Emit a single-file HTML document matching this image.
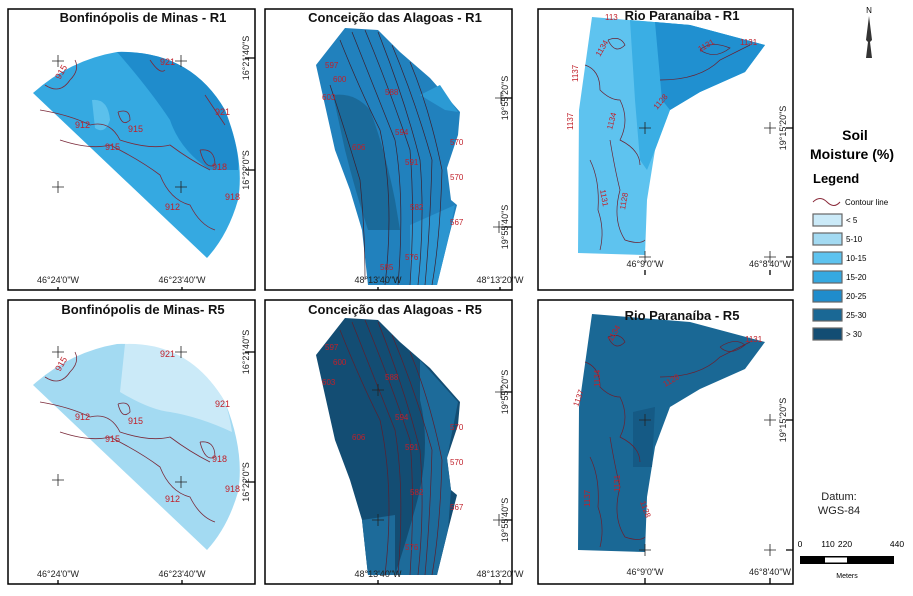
<!DOCTYPE html>
<html><head><meta charset="utf-8"><style>
body{margin:0;background:#fff;width:913px;height:591px;overflow:hidden;font-family:"Liberation Sans",sans-serif}
svg text{font-family:"Liberation Sans",sans-serif}
</style></head><body>
<svg width="913" height="591" viewBox="0 0 913 591">
<defs>
<g id="fan">
 <path d="M33,93 Q70,60 117,52 Q190,50 225,110 Q245,160 238,200 Q228,235 207,258 Z"/>
</g>
<g id="band">
 <path d="M316,65 L345,28 L378,30 L400,52 L430,78 L460,112 L458,135 L447,168 L451,200 L457,205 L448,240 L437,285 L368,285 L362,230 L350,190 L335,150 Z"/>
</g>
<g id="rio">
 <path d="M592,17 L690,25 L765,45 L745,72 L700,92 L670,110 L655,150 L647,200 L645,255 L578,253 L579,110 Z"/>
</g>
</defs>

<!-- panel frames -->
<rect x="8" y="9" width="247" height="281" fill="none" stroke="#000" stroke-width="1.5"/>
<rect x="265" y="9" width="247" height="281" fill="none" stroke="#000" stroke-width="1.5"/>
<rect x="538" y="9" width="255" height="281" fill="none" stroke="#000" stroke-width="1.5"/>
<rect x="8" y="300" width="247" height="284" fill="none" stroke="#000" stroke-width="1.5"/>
<rect x="265" y="300" width="247" height="284" fill="none" stroke="#000" stroke-width="1.5"/>
<rect x="538" y="300" width="255" height="284" fill="none" stroke="#000" stroke-width="1.5"/>

<!-- Panel 1 -->
<g>
 <use href="#fan" fill="#35a9e1"/>
 <path d="M117,52 Q190,50 225,110 Q240,150 238,170 L210,170 Q180,150 170,120 Q150,90 118,53 Z" fill="#1f8ccc"/>
 <path d="M92,100 Q108,98 110,120 Q105,135 95,128 Z" fill="#5bc0ec"/>
 <g fill="none" stroke="#7a2a3a" stroke-width="0.8">
  <path d="M45,85 Q60,95 70,80 Q80,70 75,60"/><path d="M40,110 Q70,115 90,125 Q110,120 120,140 Q150,150 170,145 Q190,160 210,170"/>
  <path d="M60,140 Q90,150 110,145 Q140,160 160,175 Q170,200 190,205 Q200,225 215,230"/>
  <path d="M150,60 Q160,75 165,70"/><path d="M205,95 Q215,110 225,125"/>
  <path d="M118,112 Q130,108 130,120 Q122,128 118,112"/><path d="M200,150 Q215,148 215,165 Q205,170 200,150"/>
 </g>
 <g fill="#c0202a" font-size="9"><text x="60" y="80" transform="rotate(-60 60 80)">915</text><text x="160" y="65">921</text><text x="215" y="115">921</text><text x="75" y="128">912</text><text x="128" y="132">915</text><text x="105" y="150">915</text><text x="212" y="170">918</text><text x="165" y="210">912</text><text x="225" y="200">918</text></g>
</g>
<!-- Panel 4 -->
<g transform="translate(0,292)">
 <use href="#fan" fill="#a3daf2"/>
 <path d="M125,52 Q190,50 225,110 Q230,125 232,140 Q200,125 170,120 Q150,118 120,100 Z" fill="#cbeaf8"/>
 <g fill="none" stroke="#7a2a3a" stroke-width="0.8">
  <path d="M45,85 Q60,95 70,80 Q80,70 75,60"/><path d="M40,110 Q70,115 90,125 Q110,120 120,140 Q150,150 170,145 Q190,160 210,170"/>
  <path d="M60,140 Q90,150 110,145 Q140,160 160,175 Q170,200 190,205 Q200,225 215,230"/>
  <path d="M118,112 Q130,108 130,120 Q122,128 118,112"/><path d="M200,150 Q215,148 215,165 Q205,170 200,150"/>
 </g>
 <g fill="#c0202a" font-size="9"><text x="60" y="80" transform="rotate(-60 60 80)">915</text><text x="160" y="65">921</text><text x="215" y="115">921</text><text x="75" y="128">912</text><text x="128" y="132">915</text><text x="105" y="150">915</text><text x="212" y="170">918</text><text x="165" y="210">912</text><text x="225" y="200">918</text></g>
</g>

<!-- Panel 2 -->
<g>
 <use href="#band" fill="#2181bd"/>
 <path d="M333,95 Q355,92 370,110 Q385,150 395,200 L400,230 L368,230 Q355,190 345,150 Z" fill="#1a6a9a"/>
 <path d="M410,225 L455,205 L448,240 L437,285 L410,285 Z" fill="#2b95d0"/>
 <path d="M420,95 L440,85 L458,112 L445,110 Z" fill="#2b9ad4"/>
 <g fill="none" stroke="#3a2030" stroke-width="0.7">
  <path d="M340,40 Q360,90 380,130 Q395,200 385,285"/><path d="M352,32 Q375,90 395,140 Q405,200 398,285"/>
  <path d="M365,30 Q390,90 410,150 Q415,210 410,285"/><path d="M378,32 Q405,100 420,160 Q425,220 418,285"/>
  <path d="M392,45 Q415,100 432,160 Q430,230 425,285"/><path d="M410,62 Q430,110 442,170 Q440,240 432,285"/>
  <path d="M330,85 Q345,130 360,180 Q365,230 365,280"/>
 </g>
 <g fill="#c0202a" font-size="8"><text x="325" y="68">597</text><text x="333" y="82">600</text><text x="385" y="95">588</text><text x="322" y="100">603</text><text x="395" y="135">594</text><text x="352" y="150">606</text><text x="405" y="165">591</text><text x="450" y="145">570</text><text x="450" y="180">570</text><text x="410" y="210">582</text><text x="405" y="260">576</text><text x="380" y="270">585</text><text x="450" y="225">567</text></g>
</g>
<!-- Panel 5 -->
<g transform="translate(0,290)">
 <use href="#band" fill="#134d73"/>
 <path d="M420,70 L458,112 L447,168 L451,200 L448,240 L437,285 L395,285 Q410,240 420,200 Q430,150 420,110 Z" fill="#1d6b9a"/>
 <path d="M362,230 L395,225 L395,285 L368,285 Z" fill="#1d6b9a"/>
 <g fill="none" stroke="#5a2030" stroke-width="0.7">
  <path d="M340,40 Q360,90 380,130 Q395,200 385,285"/><path d="M352,32 Q375,90 395,140 Q405,200 398,285"/>
  <path d="M365,30 Q390,90 410,150 Q415,210 410,285"/><path d="M378,32 Q405,100 420,160 Q425,220 418,285"/>
  <path d="M392,45 Q415,100 432,160 Q430,230 425,285"/><path d="M410,62 Q430,110 442,170 Q440,240 432,285"/>
 </g>
 <g fill="#c0202a" font-size="8"><text x="325" y="60">597</text><text x="333" y="75">600</text><text x="385" y="90">588</text><text x="322" y="95">603</text><text x="395" y="130">594</text><text x="352" y="150">606</text><text x="405" y="160">591</text><text x="450" y="140">570</text><text x="450" y="175">570</text><text x="410" y="205">582</text><text x="405" y="260">576</text><text x="450" y="220">567</text></g>
</g>

<!-- Panel 3 -->
<g>
 <use href="#rio" fill="#5ec3ef"/>
 <path d="M630,20 L690,25 L765,45 L745,72 L700,92 L670,110 L655,150 L647,170 L640,160 L635,100 Z" fill="#3aaee4"/>
 <path d="M655,22 L690,25 L765,45 L745,72 L700,92 L670,110 L662,100 Z" fill="#2090d0"/>
 <g fill="none" stroke="#6a2030" stroke-width="0.7">
  <path d="M585,65 Q600,70 600,90 Q610,100 620,100 Q630,120 620,140 Q640,150 640,165"/>
  <path d="M590,160 Q600,180 598,210 Q605,230 600,250"/><path d="M610,140 Q615,170 620,190 Q612,220 625,240 Q640,245 645,240"/>
  <path d="M660,80 Q700,80 720,60 Q740,50 750,45"/><path d="M700,50 Q710,40 730,48 Q715,60 700,50"/>
  <path d="M608,40 Q620,35 625,45 Q615,55 608,40"/>
 </g>
 <g fill="#c0202a" font-size="8"><text x="578" y="82" transform="rotate(-90 578 82)">1137</text><text x="573" y="130" transform="rotate(-90 573 130)">1137</text><text x="612" y="130" transform="rotate(-75 612 130)">1134</text><text x="600" y="57" transform="rotate(-60 600 57)">1134</text><text x="700" y="52" transform="rotate(-30 700 52)">1131</text><text x="740" y="45">1131</text><text x="657" y="110" transform="rotate(-50 657 110)">1128</text><text x="600" y="190" transform="rotate(80 600 190)">1131</text><text x="625" y="210" transform="rotate(-80 625 210)">1128</text><text x="605" y="20">113</text></g>
</g>
<!-- Panel 6 -->
<g transform="translate(0,297)">
 <use href="#rio" fill="#1a6895"/>
 <path d="M633,115 L655,110 L652,170 L633,170 Z" fill="#155a85"/>
 <g fill="none" stroke="#6a2030" stroke-width="0.7">
  <path d="M585,65 Q600,70 600,90 Q610,100 620,100 Q630,120 620,140 Q640,150 640,165"/>
  <path d="M590,160 Q600,180 598,210 Q605,230 600,250"/><path d="M610,140 Q615,170 620,190 Q612,220 625,240 Q640,245 645,240"/>
  <path d="M660,80 Q700,80 720,60 Q740,50 750,45"/><path d="M720,50 Q735,40 745,48 Q730,60 720,50"/>
  <path d="M608,40 Q620,35 625,45 Q615,55 608,40"/>
 </g>
 <g fill="#c0202a" font-size="8"><text x="578" y="110" transform="rotate(-70 578 110)">1137</text><text x="600" y="90" transform="rotate(-90 600 90)">1134</text><text x="612" y="45" transform="rotate(-60 612 45)">1134</text><text x="745" y="45">1131</text><text x="665" y="90" transform="rotate(-30 665 90)">1128</text><text x="620" y="195" transform="rotate(-90 620 195)">1131</text><text x="590" y="210" transform="rotate(-90 590 210)">1137</text><text x="640" y="205" transform="rotate(70 640 205)">1128</text></g>
</g>

<!-- titles -->
<g font-weight="bold" font-size="13" text-anchor="middle" fill="#111">
 <text x="143" y="22">Bonfinópolis de Minas - R1</text>
 <text x="395" y="22">Conceição das Alagoas - R1</text>
 <text x="682" y="20">Rio Paranaíba - R1</text>
 <text x="143" y="314">Bonfinópolis de Minas- R5</text>
 <text x="395" y="314">Conceição das Alagoas - R5</text>
 <text x="682" y="320">Rio Paranaíba - R5</text>
</g>

<!-- axis labels -->
<g font-size="9" fill="#222" text-anchor="middle">
 <text x="58" y="283">46°24'0"W</text><text x="182" y="283">46°23'40"W</text>
 <text x="378" y="283">48°13'40"W</text><text x="500" y="283">48°13'20"W</text>
 <text x="645" y="267">46°9'0"W</text><text x="770" y="267">46°8'40"W</text>
 <text x="58" y="577">46°24'0"W</text><text x="182" y="577">46°23'40"W</text>
 <text x="378" y="577">48°13'40"W</text><text x="500" y="577">48°13'20"W</text>
 <text x="645" y="575">46°9'0"W</text><text x="770" y="575">46°8'40"W</text>
</g>
<g stroke="#000" stroke-width="1.3">
 <path d="M58,287V290M182,287V290M378,287V290M500,287V290M645,270V275M770,270V275M58,580V584M182,580V584M378,580V584M500,580V584M645,578V584M770,578V584"/>
 <path d="M245,58H255M245,170H255M502,98H512M502,227H512M786,128H793M786,257H793M245,352H255M245,482H255M502,392H512M502,520H512M786,420H793M786,550H793"/>
</g>
<g font-size="9" fill="#222" text-anchor="middle">
 <text transform="translate(249,58) rotate(-90)">16°21'40"S</text><text transform="translate(249,170) rotate(-90)">16°22'0"S</text>
 <text transform="translate(508,98) rotate(-90)">19°55'20"S</text><text transform="translate(508,227) rotate(-90)">19°55'40"S</text>
 <text transform="translate(786,128) rotate(-90)">19°15'20"S</text>
 <text transform="translate(249,352) rotate(-90)">16°21'40"S</text><text transform="translate(249,482) rotate(-90)">16°22'0"S</text>
 <text transform="translate(508,392) rotate(-90)">19°55'20"S</text><text transform="translate(508,520) rotate(-90)">19°55'40"S</text>
 <text transform="translate(786,420) rotate(-90)">19°15'20"S</text>
</g>
<g stroke="#222" stroke-width="0.8">
 <path d="M52,61h12M58,55v12M175,61h12M181,55v12M52,187h12M58,181v12M175,187h12M181,181v12"/>
 <path d="M495,98h12M501,92v12M493,227h12M499,221v12"/>
 <path d="M639,128h12M645,122v12M764,128h12M770,122v12M639,257h12M645,251v12M764,257h12M770,251v12"/>
 <path d="M52,352h12M58,346v12M175,352h12M181,346v12M52,480h12M58,474v12M175,482h12M181,476v12"/>
 <path d="M372,390h12M378,384v12M372,520h12M378,514v12M495,392h12M501,386v12M493,520h12M499,514v12"/>
 <path d="M639,420h12M645,414v12M764,420h12M770,414v12M639,550h12M645,544v12M764,550h12M770,544v12"/>
</g>

<!-- north arrow -->
<g>
 <text x="869" y="13" font-size="8" text-anchor="middle">N</text>
 <path d="M869,16 L872,40 L870,42 L872,58 L866,58 L868,42 L866,40 Z" fill="#333"/>
</g>

<!-- legend -->
<g>
 <text x="855" y="140" font-size="14" font-weight="bold" text-anchor="middle">Soil</text>
 <text x="852" y="159" font-size="14" font-weight="bold" text-anchor="middle">Moisture (%)</text>
 <text x="813" y="183" font-size="13" font-weight="bold">Legend</text>
 <path d="M813,202 Q820,195 827,202 Q834,209 840,202" fill="none" stroke="#8a2a3a"/>
 <text x="845" y="205" font-size="8">Contour line</text>
 <g stroke="#666" stroke-width="1.2">
  <rect x="813" y="214" width="29" height="12" fill="#cbeaf8"/>
  <rect x="813" y="233" width="29" height="12" fill="#a3daf2"/>
  <rect x="813" y="252" width="29" height="12" fill="#5ec3ef"/>
  <rect x="813" y="271" width="29" height="12" fill="#35a9e1"/>
  <rect x="813" y="290" width="29" height="12" fill="#1f8ccc"/>
  <rect x="813" y="309" width="29" height="12" fill="#1a6895"/>
  <rect x="813" y="328" width="29" height="12" fill="#134d73"/>
 </g>
 <g font-size="8"><text x="846" y="223">&lt; 5</text><text x="846" y="242">5-10</text><text x="846" y="261">10-15</text><text x="846" y="280">15-20</text><text x="846" y="299">20-25</text><text x="846" y="318">25-30</text><text x="846" y="337">&gt; 30</text></g>
</g>
<g font-size="11" text-anchor="middle" fill="#222">
 <text x="839" y="500">Datum:</text><text x="839" y="514">WGS-84</text>
</g>
<g>
 <g font-size="8.5" text-anchor="middle"><text x="800" y="547">0</text><text x="828" y="547">110</text><text x="845" y="547">220</text><text x="897" y="547">440</text></g>
 <rect x="800" y="556" width="94" height="8" fill="#000"/>
 <rect x="825" y="557.5" width="22" height="5" fill="#fff"/>
 <text x="847" y="578" font-size="7" text-anchor="middle">Meters</text>
</g>
</svg>
</body></html>
